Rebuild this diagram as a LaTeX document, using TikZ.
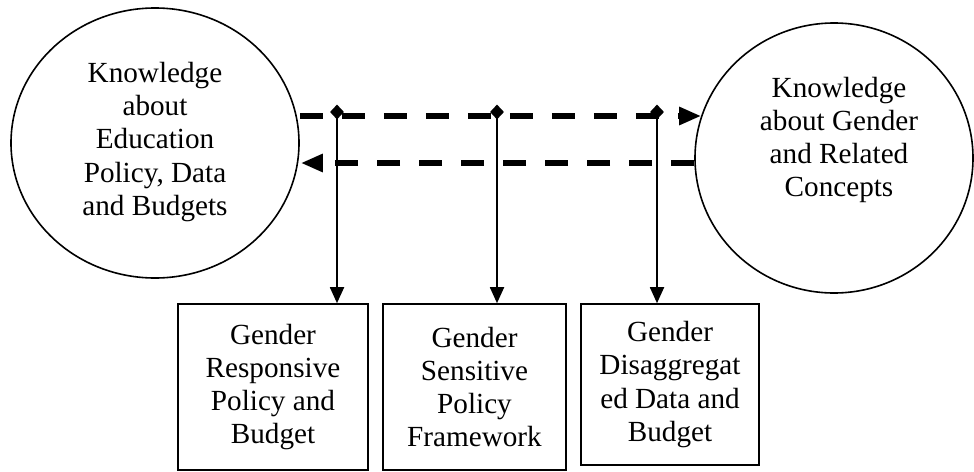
\documentclass[tikz,border=0pt]{standalone}
\usepackage{fontspec}
\setmainfont{Liberation Serif}
\usetikzlibrary{arrows.meta,shapes.geometric,calc}
\begin{document}
\begin{tikzpicture}[x=1pt,y=-1pt,
  txt/.style={font=\fontsize{29.2}{33.3}\selectfont, align=center, inner sep=0pt},
  circ/.style={ellipse, draw, line width=1.6pt, inner sep=0pt},
  boxnode/.style={rectangle, draw, line width=1.6pt, inner sep=0pt, font=\fontsize{29.2}{33.3}\selectfont, align=center},
  dia/.style={diamond, fill=black, inner sep=0pt, minimum width=14pt, minimum height=15pt},
  dashline/.style={line width=6pt, dash pattern=on 23pt off 19pt, -{Triangle[length=22pt,width=17pt]}},
  vline/.style={line width=1.8pt, -{Triangle[length=16pt,width=14pt]}}
]
\useasboundingbox (0,0) rectangle (974,471);
% circles
\node[circ, minimum width=288pt, minimum height=270pt] (L) at (155,143) {};
\node[txt] (Lt) at (155,142) {Knowledge\\about\\Education\\Policy, Data\\and Budgets};
\node[circ, minimum width=278pt, minimum height=270pt] (R) at (834,158) {};
\node[txt] (Rt) at (839,140) {Knowledge\\about Gender\\and Related\\Concepts};
% boxes
\node[boxnode, minimum width=190pt, minimum height=166pt] (B1) at (273,387) {Gender\\Responsive\\Policy and\\Budget};
\node[boxnode, minimum width=183pt, minimum height=166pt] (B2) at (474.5,387) {Gender\\Sensitive\\Policy\\Framework};
\node[boxnode, minimum width=178pt, minimum height=161pt] (B3) at (670,384.5) {Gender\\Disaggregat\\ed Data and\\Budget};
% dashed arrows
\coordinate (ytop) at (0,116);
\coordinate (ybot) at (0,163);
\draw[dashline] (L.east |- ytop) -- ($(R.west |- ytop)+(7,0)$);
\draw[dashline] (R.west |- ybot) -- ($(L.east |- ybot)+(1,0)$);
% diamonds and vertical arrows
\node[dia] (d1) at (337,112) {};
\node[dia] (d2) at (497,112) {};
\node[dia] (d3) at (657,112) {};
\draw[vline] (d1.center) -- (d1 |- B1.north);
\draw[vline] (d2.center) -- (d2 |- B2.north);
\draw[vline] (d3.center) -- (d3 |- B3.north);
\end{tikzpicture}
\end{document}
